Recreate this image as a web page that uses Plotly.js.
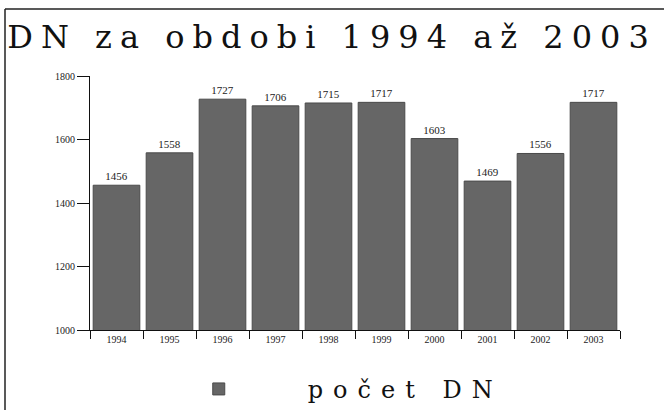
<!DOCTYPE html>
<html>
<head>
<meta charset="utf-8">
<script src="https://cdn.plot.ly/plotly-3.0.1.min.js"></script>
<style>
html,body{margin:0;padding:0;background:#fff;overflow:hidden;}
#chart{width:664px;height:410px;overflow:hidden;}
.gtitle{letter-spacing:8px;}
.legendtext{letter-spacing:10px;}
</style>
</head>
<body>
<div id="chart"></div>
<script>
const years = ["1994","1995","1996","1997","1998","1999","2000","2001","2002","2003"];
const counts = [1456, 1558, 1727, 1706, 1715, 1717, 1603, 1469, 1556, 1717];
const yTicks = [1000, 1200, 1400, 1600, 1800];
const seriesName = "počet DN";
const chartTitle = "DN za obdobi 1994 až 2003";

const serif = "DejaVu Serif";
const smallSerif = "Liberation Serif";
const trace = {
  type: "bar",
  x: years,
  y: counts,
  name: seriesName,
  text: counts.map(String),
  textposition: "outside",
  cliponaxis: false,
  textfont: {family: smallSerif, size: 11, color: "#222"},
  marker: {color: "#666666", line: {color: "#4a4a4a", width: 1}},
  showlegend: true,
  hoverinfo: "x+y"
};

const frameLine = {color: "#222", width: 1.5};
const layout = {
  width: 664, height: 410,
  margin: {l: 90, r: 44, t: 76, b: 80, autoexpand: false},
  paper_bgcolor: "#fff",
  plot_bgcolor: "#fff",
  bargap: 0.12,
  title: {
    text: chartTitle,
    font: {family: serif, size: 32, color: "#111"},
    x: 0.5, xref: "container", xanchor: "center",
    y: 0.91, yref: "container", yanchor: "middle"
  },
  xaxis: {
    type: "category",
    showline: true, linecolor: "#111", linewidth: 1,
    ticks: "outside", ticklen: 8, tickcolor: "#111", tickwidth: 1,
    tickson: "boundaries",
    showgrid: false, zeroline: false,
    tickfont: {family: smallSerif, size: 10, color: "#222"}
  },
  yaxis: {
    range: [1000, 1800],
    tickvals: yTicks,
    ticktext: yTicks.map(String),
    showline: true, linecolor: "#111", linewidth: 1,
    ticks: "outside", ticklen: 12, tickcolor: "#111", tickwidth: 1,
    showgrid: false, zeroline: false,
    tickfont: {family: smallSerif, size: 10, color: "#222"}
  },
  showlegend: true,
  legend: {
    orientation: "h",
    x: 0.075, xanchor: "left",
    y: -0.145, yanchor: "top",
    font: {family: serif, size: 24, color: "#111"},
    itemwidth: 168,
    bgcolor: "rgba(0,0,0,0)"
  },
  shapes: [
    {type: "line", xref: "paper", yref: "paper",
     x0: -85/530, x1: 1.2, y0: 1 + 67/254, y1: 1 + 67/254, line: frameLine, layer: "below"},
    {type: "line", xref: "paper", yref: "paper",
     x0: -85/530, x1: -85/530, y0: 1 + 67/254, y1: -0.4, line: frameLine, layer: "below"}
  ]
};

Plotly.newPlot("chart", [trace], layout, {displayModeBar: false, staticPlot: true});
</script>
</body>
</html>
